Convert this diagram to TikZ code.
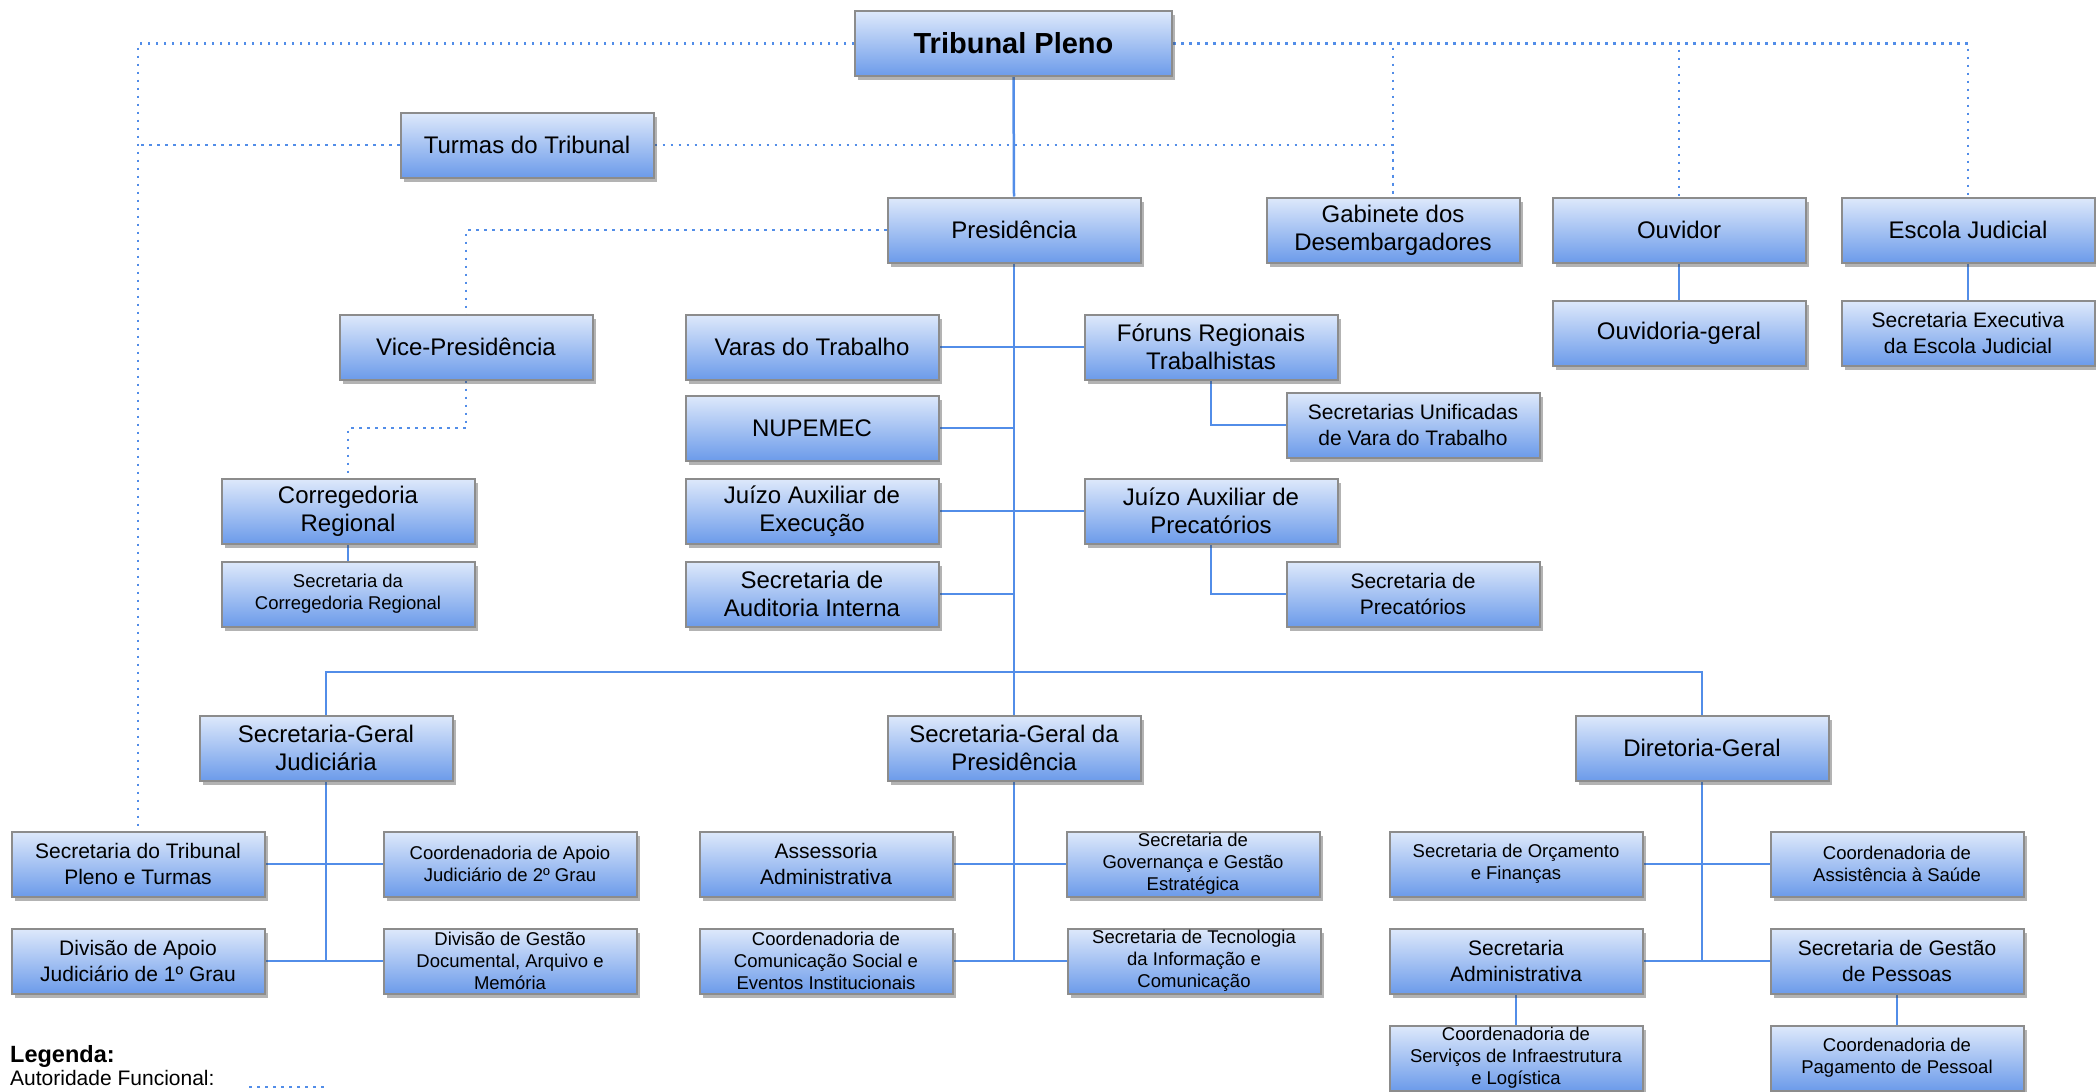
\documentclass[tikz,border=0pt]{standalone}
\usepackage{fontspec}
\setmainfont{Liberation Sans}
\usetikzlibrary{shadows,backgrounds,calc}
\definecolor{boxtop}{RGB}{222,233,251}
\definecolor{boxbot}{RGB}{108,155,234}
\definecolor{boxedge}{RGB}{140,140,140}
\definecolor{linkblue}{RGB}{82,141,232}
\tikzset{
 orgbox/.style={draw=boxedge, line width=2pt, top color=boxtop, bottom color=boxbot,
   minimum width=253pt, minimum height=65pt, inner sep=0pt, align=center,
   drop shadow={shadow xshift=3pt, shadow yshift=-4pt, opacity=0.4, fill=black!75}},
 big/.style={orgbox, font=\fontsize{24}{28}\selectfont},
 mid/.style={orgbox, font=\fontsize{21}{25.5}\selectfont},
 sml/.style={orgbox, font=\fontsize{18.5}{22}\selectfont},
 solidlink/.style={draw=linkblue, line width=2.5pt},
 dotlink/.style={draw=linkblue, line width=2.5pt, dash pattern=on 2.5pt off 5.5pt},
}
\begin{document}
\begin{tikzpicture}[x=1pt,y=-1pt]
\useasboundingbox (0,0) rectangle (2096,1092);
% top
\node[orgbox, minimum width=317pt, font=\bfseries\fontsize{29}{32}\selectfont] (trib) at (1013.5,43.5) {Tribunal Pleno};
\node[big] (turmas) at (527,145) {Turmas do Tribunal};
\node[big] (pres) at (1014,230) {Presidência};
\node[big] (gab) at (1393,230) {Gabinete dos\\Desembargadores};
\node[big] (ouv) at (1679,230) {Ouvidor};
\node[big] (esc) at (1968,230) {Escola Judicial};
\node[big] (ouvg) at (1679,333) {Ouvidoria-geral};
\node[mid] (secexe) at (1968,333) {Secretaria Executiva\\da Escola Judicial};
% presidency children
\node[big] (vice) at (466,347) {Vice-Presidência};
\node[big] (varas) at (812,347) {Varas do Trabalho};
\node[big] (foruns) at (1211,347) {Fóruns Regionais\\Trabalhistas};
\node[big] (nupemec) at (812,428) {NUPEMEC};
\node[mid] (secunif) at (1413,425) {Secretarias Unificadas\\de Vara do Trabalho};
\node[big] (correg) at (348,511) {Corregedoria\\Regional};
\node[sml] (secorreg) at (348,594) {Secretaria da\\Corregedoria Regional};
\node[big] (jaexec) at (812,511) {Juízo Auxiliar de\\Execução};
\node[big] (japrec) at (1211,511) {Juízo Auxiliar de\\Precatórios};
\node[big] (audit) at (812,594) {Secretaria de\\Auditoria Interna};
\node[mid] (secprec) at (1413,594) {Secretaria de\\Precatórios};
% second level
\node[big] (sgj) at (326,748) {Secretaria-Geral\\Judiciária};
\node[big] (sgp) at (1014,748) {Secretaria-Geral da\\Presidência};
\node[big] (dg) at (1702,748) {Diretoria-Geral};
% SGJ children
\node[mid] (stpt) at (138,864) {Secretaria do Tribunal\\Pleno e Turmas};
\node[sml] (caj2) at (510,864) {Coordenadoria de Apoio\\Judiciário de 2º Grau};
\node[mid] (daj1) at (138,961) {Divisão de Apoio\\Judiciário de 1º Grau};
\node[sml] (dgd) at (510,961) {Divisão de Gestão\\Documental, Arquivo e\\Memória};
% SGP children
\node[mid] (assess) at (826,864) {Assessoria\\Administrativa};
\node[sml] (sgov) at (1193,864) {Secretaria de\\Governança e Gestão\\Estratégica};
\node[sml] (ccom) at (826,961) {Coordenadoria de\\Comunicação Social e\\Eventos Institucionais};
\node[sml] (stic) at (1194,961) {Secretaria de Tecnologia\\da Informação e\\Comunicação};
% DG children
\node[sml] (sof) at (1516,864) {Secretaria de Orçamento\\e Finanças};
\node[sml] (cas) at (1897,864) {Coordenadoria de\\Assistência à Saúde};
\node[mid] (sadm) at (1516,961) {Secretaria\\Administrativa};
\node[mid] (sgpes) at (1897,961) {Secretaria de Gestão\\de Pessoas};
\node[sml] (csil) at (1516,1058) {Coordenadoria de\\Serviços de Infraestrutura\\e Logística};
\node[sml] (cpp) at (1897,1058) {Coordenadoria de\\Pagamento de Pessoal};
% legend
\node[anchor=base west, inner sep=0pt, font=\bfseries\fontsize{23.5}{26}\selectfont] (leg) at (10,1062) {Legenda:};
\node[anchor=base west, inner sep=0pt, font=\fontsize{21}{24}\selectfont] (autf) at (10,1085) {Autoridade Funcional:};
\coordinate (legA) at (249,1087);
\coordinate (legB) at (326,1087);
\coordinate (bus) at (1014,672);

\begin{scope}[on background layer]
% solid
\draw[solidlink] (trib.south) -- (pres.north);
\draw[solidlink] (pres.south) -- (sgp.north);
\draw[solidlink] (varas.east) -- (foruns.west);
\draw[solidlink] (nupemec.east) -- (nupemec.east -| pres.south);
\draw[solidlink] (jaexec.east) -- (japrec.west);
\draw[solidlink] (audit.east) -- (audit.east -| pres.south);
\draw[solidlink] (foruns.south) |- (secunif.west);
\draw[solidlink] (japrec.south) |- (secprec.west);
\draw[solidlink] (sgj.north) |- (bus) -| (dg.north);
\draw[solidlink] (sgj.south) -- (sgj.south |- daj1.east);
\draw[solidlink] (stpt.east) -- (caj2.west);
\draw[solidlink] (daj1.east) -- (dgd.west);
\draw[solidlink] (sgp.south) -- (sgp.south |- ccom.east);
\draw[solidlink] (assess.east) -- (sgov.west);
\draw[solidlink] (ccom.east) -- (stic.west);
\draw[solidlink] (dg.south) -- (dg.south |- sadm.east);
\draw[solidlink] (sof.east) -- (cas.west);
\draw[solidlink] (sadm.east) -- (sgpes.west);
\draw[solidlink] (sadm.south) -- (csil.north);
\draw[solidlink] (sgpes.south) -- (cpp.north);
\draw[solidlink] (ouv.south) -- (ouvg.north);
\draw[solidlink] (esc.south) -- (secexe.north);
\draw[solidlink] (correg.south) -- (secorreg.north);
% dotted
\draw[dotlink] (trib.west) -| (stpt.north);
\draw[dotlink] (turmas.west) -- (turmas.west -| stpt.north);
\draw[dotlink] (turmas.east) -| (gab.north);
\draw[dotlink] (trib.east) -| (gab.north);
\draw[dotlink] (trib.east) -| (ouv.north);
\draw[dotlink] (trib.east) -| (esc.north);
\draw[dotlink] (pres.west) -| (vice.north);
\draw[dotlink] (vice.south) -- (vice.south |- nupemec.west) -| (correg.north);
\draw[dotlink] (legA) -- (legB);
\end{scope}
\end{tikzpicture}
\end{document}
